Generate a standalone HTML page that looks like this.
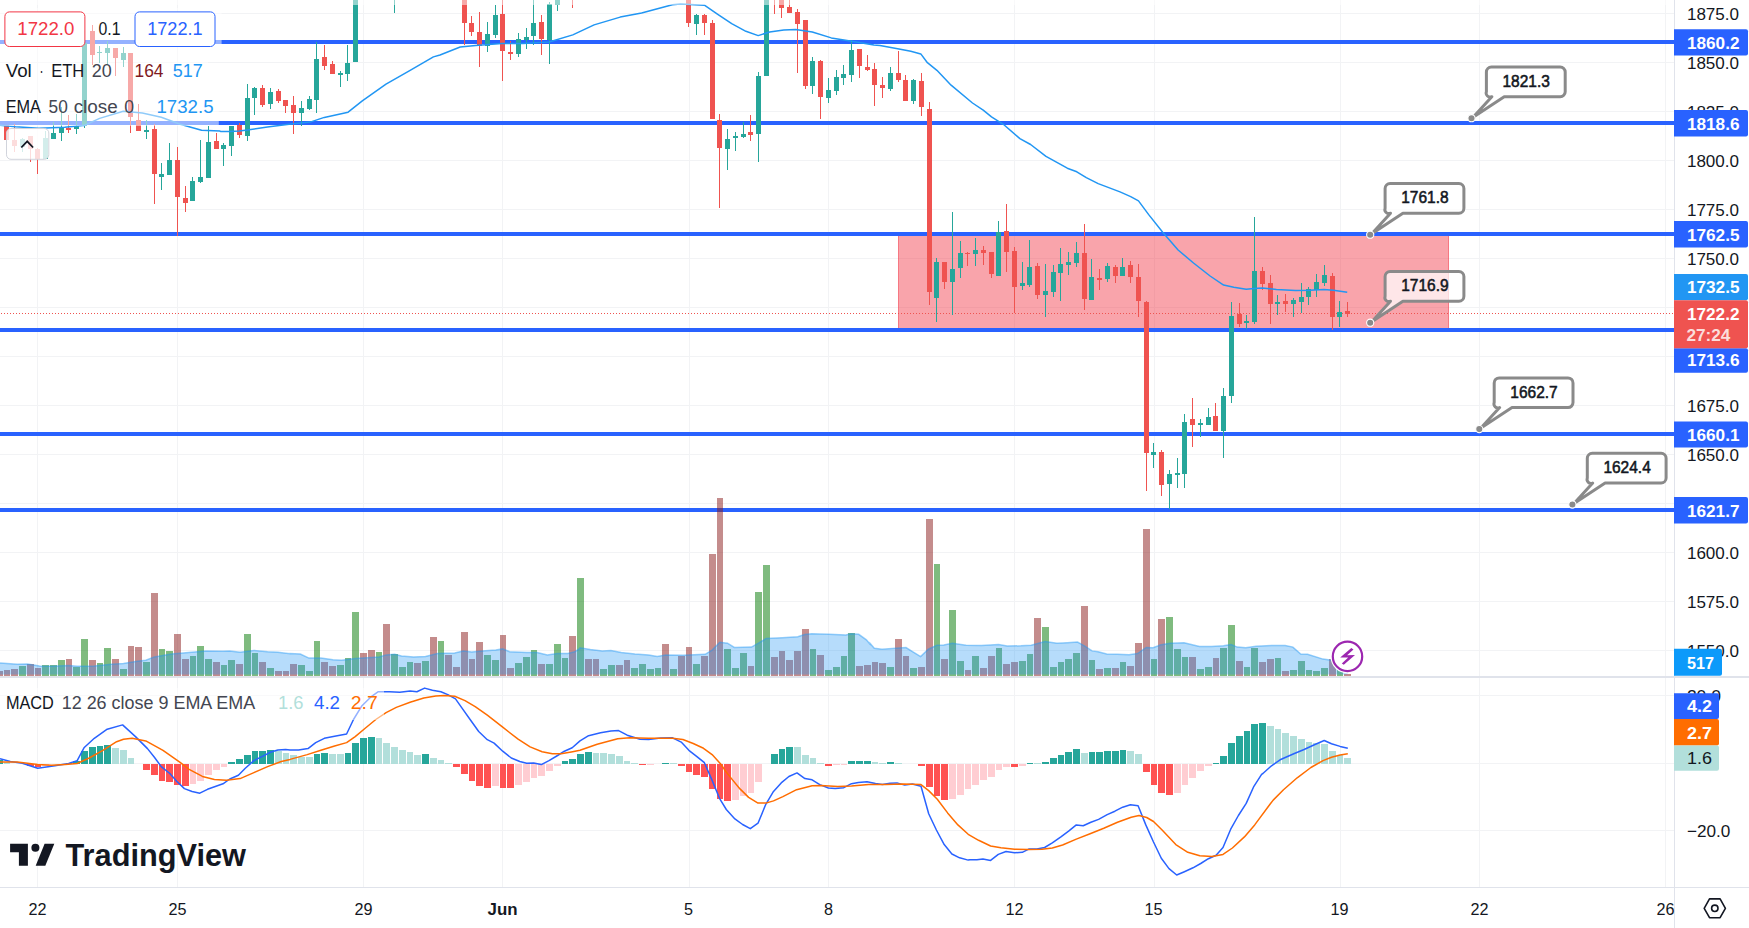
<!DOCTYPE html>
<html><head><meta charset="utf-8"><title>ETH chart</title>
<style>html,body{margin:0;padding:0;background:#fff;overflow:hidden}svg{display:block}</style></head>
<body><svg width="1749" height="928" viewBox="0 0 1749 928">
<rect x="0" y="0" width="1749" height="928" fill="#fff"/>
<path d="M37.5 0V887 M177.5 0V887 M363.5 0V887 M502.5 0V887 M689.5 0V887 M828.5 0V887 M1014.5 0V887 M1154.5 0V887 M1340.5 0V887 M1479.5 0V887 M1665.5 0V887 M0 650.5H1674.5 M0 601.5H1674.5 M0 552.5H1674.5 M0 503.5H1674.5 M0 454.5H1674.5 M0 405.5H1674.5 M0 356.5H1674.5 M0 307.5H1674.5 M0 258.5H1674.5 M0 209.5H1674.5 M0 160.5H1674.5 M0 111.5H1674.5 M0 62.5H1674.5 M0 13.5H1674.5 M0 695.5H1674.5 M0 763.5H1674.5 M0 830.5H1674.5" stroke="#F2F3F5" stroke-width="1" fill="none"/>
<rect x="898" y="234" width="551" height="96" fill="#F23645" fill-opacity="0.45"/><rect x="898.5" y="234.5" width="550" height="95" fill="none" stroke="#F23645" stroke-opacity="0.4" stroke-width="1"/>
<rect x="0" y="40.0" width="1674.5" height="4" fill="#2962FF"/>
<rect x="0" y="121.0" width="1674.5" height="4" fill="#2962FF"/>
<rect x="0" y="232.0" width="1674.5" height="4" fill="#2962FF"/>
<rect x="0" y="328.0" width="1674.5" height="4" fill="#2962FF"/>
<rect x="0" y="432.0" width="1674.5" height="4" fill="#2962FF"/>
<rect x="0" y="508.0" width="1674.5" height="4" fill="#2962FF"/>
<g shape-rendering="crispEdges"><rect x="0" y="671.1" width="3" height="4.9" fill="rgba(137,25,25,0.5)"/><rect x="4" y="670.1" width="6" height="5.9" fill="rgba(137,25,25,0.5)"/><rect x="11" y="669.1" width="7" height="6.9" fill="rgba(137,25,25,0.5)"/><rect x="19" y="666.0" width="7" height="10.0" fill="rgba(0,120,0,0.5)"/><rect x="27" y="664.1" width="7" height="11.9" fill="rgba(137,25,25,0.5)"/><rect x="35" y="668.1" width="6" height="7.9" fill="rgba(137,25,25,0.5)"/><rect x="42" y="665.0" width="7" height="11.0" fill="rgba(0,120,0,0.5)"/><rect x="50" y="665.0" width="7" height="11.0" fill="rgba(0,120,0,0.5)"/><rect x="58" y="660.0" width="7" height="16.0" fill="rgba(0,120,0,0.5)"/><rect x="66" y="659.0" width="6" height="17.0" fill="rgba(137,25,25,0.5)"/><rect x="73" y="667.2" width="7" height="8.8" fill="rgba(0,120,0,0.5)"/><rect x="81" y="638.9" width="7" height="37.1" fill="rgba(0,120,0,0.5)"/><rect x="89" y="660.0" width="7" height="16.0" fill="rgba(137,25,25,0.5)"/><rect x="97" y="662.9" width="6" height="13.1" fill="rgba(0,120,0,0.5)"/><rect x="104" y="648.0" width="7" height="28.0" fill="rgba(0,120,0,0.5)"/><rect x="112" y="659.0" width="7" height="17.0" fill="rgba(137,25,25,0.5)"/><rect x="120" y="669.1" width="7" height="6.9" fill="rgba(0,120,0,0.5)"/><rect x="128" y="646.1" width="6" height="29.9" fill="rgba(137,25,25,0.5)"/><rect x="135" y="647.0" width="7" height="29.0" fill="rgba(137,25,25,0.5)"/><rect x="143" y="662.1" width="7" height="13.9" fill="rgba(0,120,0,0.5)"/><rect x="151" y="592.9" width="7" height="83.1" fill="rgba(137,25,25,0.5)"/><rect x="159" y="649.0" width="6" height="27.0" fill="rgba(0,120,0,0.5)"/><rect x="166" y="650.9" width="7" height="25.1" fill="rgba(0,120,0,0.5)"/><rect x="174" y="634.1" width="7" height="41.9" fill="rgba(137,25,25,0.5)"/><rect x="182" y="659.0" width="7" height="17.0" fill="rgba(137,25,25,0.5)"/><rect x="190" y="656.1" width="6" height="19.9" fill="rgba(0,120,0,0.5)"/><rect x="197" y="646.1" width="7" height="29.9" fill="rgba(0,120,0,0.5)"/><rect x="205" y="659.0" width="7" height="17.0" fill="rgba(0,120,0,0.5)"/><rect x="213" y="662.1" width="7" height="13.9" fill="rgba(137,25,25,0.5)"/><rect x="221" y="665.0" width="6" height="11.0" fill="rgba(0,120,0,0.5)"/><rect x="228" y="660.0" width="7" height="16.0" fill="rgba(0,120,0,0.5)"/><rect x="236" y="663.9" width="7" height="12.1" fill="rgba(137,25,25,0.5)"/><rect x="244" y="634.1" width="7" height="41.9" fill="rgba(0,120,0,0.5)"/><rect x="252" y="653.0" width="6" height="23.0" fill="rgba(0,120,0,0.5)"/><rect x="259" y="662.1" width="7" height="13.9" fill="rgba(137,25,25,0.5)"/><rect x="267" y="668.1" width="7" height="7.9" fill="rgba(0,120,0,0.5)"/><rect x="275" y="671.1" width="7" height="4.9" fill="rgba(137,25,25,0.5)"/><rect x="283" y="671.1" width="6" height="4.9" fill="rgba(137,25,25,0.5)"/><rect x="290" y="663.9" width="7" height="12.1" fill="rgba(137,25,25,0.5)"/><rect x="298" y="665.0" width="7" height="11.0" fill="rgba(0,120,0,0.5)"/><rect x="306" y="671.1" width="7" height="4.9" fill="rgba(0,120,0,0.5)"/><rect x="314" y="641.0" width="6" height="35.0" fill="rgba(0,120,0,0.5)"/><rect x="321" y="662.1" width="7" height="13.9" fill="rgba(137,25,25,0.5)"/><rect x="329" y="666.0" width="7" height="10.0" fill="rgba(137,25,25,0.5)"/><rect x="337" y="665.0" width="7" height="11.0" fill="rgba(0,120,0,0.5)"/><rect x="345" y="658.1" width="6" height="17.9" fill="rgba(0,120,0,0.5)"/><rect x="352" y="612.0" width="7" height="64.0" fill="rgba(0,120,0,0.5)"/><rect x="360" y="653.0" width="7" height="23.0" fill="rgba(137,25,25,0.5)"/><rect x="368" y="650.1" width="7" height="25.9" fill="rgba(137,25,25,0.5)"/><rect x="376" y="652.1" width="6" height="23.9" fill="rgba(0,120,0,0.5)"/><rect x="383" y="624.0" width="7" height="52.0" fill="rgba(137,25,25,0.5)"/><rect x="391" y="654.0" width="7" height="22.0" fill="rgba(0,120,0,0.5)"/><rect x="399" y="667.2" width="7" height="8.8" fill="rgba(0,120,0,0.5)"/><rect x="407" y="662.1" width="6" height="13.9" fill="rgba(0,120,0,0.5)"/><rect x="414" y="663.1" width="7" height="12.9" fill="rgba(137,25,25,0.5)"/><rect x="422" y="661.0" width="7" height="15.0" fill="rgba(0,120,0,0.5)"/><rect x="430" y="637.0" width="7" height="39.0" fill="rgba(137,25,25,0.5)"/><rect x="438" y="641.0" width="6" height="35.0" fill="rgba(0,120,0,0.5)"/><rect x="445" y="655.0" width="7" height="21.0" fill="rgba(137,25,25,0.5)"/><rect x="453" y="667.2" width="7" height="8.8" fill="rgba(137,25,25,0.5)"/><rect x="461" y="632.0" width="7" height="44.0" fill="rgba(137,25,25,0.5)"/><rect x="469" y="659.0" width="6" height="17.0" fill="rgba(137,25,25,0.5)"/><rect x="476" y="642.0" width="7" height="34.0" fill="rgba(137,25,25,0.5)"/><rect x="484" y="655.0" width="7" height="21.0" fill="rgba(0,120,0,0.5)"/><rect x="492" y="660.0" width="7" height="16.0" fill="rgba(0,120,0,0.5)"/><rect x="500" y="635.0" width="6" height="41.0" fill="rgba(137,25,25,0.5)"/><rect x="507" y="668.1" width="7" height="7.9" fill="rgba(137,25,25,0.5)"/><rect x="515" y="663.1" width="7" height="12.9" fill="rgba(0,120,0,0.5)"/><rect x="523" y="657.1" width="7" height="18.9" fill="rgba(0,120,0,0.5)"/><rect x="531" y="650.1" width="6" height="25.9" fill="rgba(0,120,0,0.5)"/><rect x="538" y="663.9" width="7" height="12.1" fill="rgba(137,25,25,0.5)"/><rect x="546" y="663.9" width="7" height="12.1" fill="rgba(0,120,0,0.5)"/><rect x="554" y="644.0" width="7" height="32.0" fill="rgba(0,120,0,0.5)"/><rect x="562" y="658.1" width="6" height="17.9" fill="rgba(0,120,0,0.5)"/><rect x="569" y="636.0" width="7" height="40.0" fill="rgba(137,25,25,0.5)"/><rect x="577" y="578.0" width="7" height="98.0" fill="rgba(0,120,0,0.5)"/><rect x="585" y="659.0" width="7" height="17.0" fill="rgba(137,25,25,0.5)"/><rect x="593" y="659.0" width="6" height="17.0" fill="rgba(137,25,25,0.5)"/><rect x="600" y="669.1" width="7" height="6.9" fill="rgba(0,120,0,0.5)"/><rect x="608" y="665.0" width="7" height="11.0" fill="rgba(0,120,0,0.5)"/><rect x="616" y="665.0" width="7" height="11.0" fill="rgba(137,25,25,0.5)"/><rect x="624" y="660.0" width="6" height="16.0" fill="rgba(137,25,25,0.5)"/><rect x="631" y="668.1" width="7" height="7.9" fill="rgba(0,120,0,0.5)"/><rect x="639" y="663.9" width="7" height="12.1" fill="rgba(0,120,0,0.5)"/><rect x="647" y="669.1" width="7" height="6.9" fill="rgba(0,120,0,0.5)"/><rect x="655" y="668.1" width="6" height="7.9" fill="rgba(0,120,0,0.5)"/><rect x="662" y="644.0" width="7" height="32.0" fill="rgba(137,25,25,0.5)"/><rect x="670" y="669.1" width="7" height="6.9" fill="rgba(0,120,0,0.5)"/><rect x="678" y="656.1" width="7" height="19.9" fill="rgba(137,25,25,0.5)"/><rect x="686" y="647.0" width="6" height="29.0" fill="rgba(137,25,25,0.5)"/><rect x="693" y="663.9" width="7" height="12.1" fill="rgba(0,120,0,0.5)"/><rect x="701" y="656.1" width="7" height="19.9" fill="rgba(137,25,25,0.5)"/><rect x="709" y="553.8" width="7" height="122.2" fill="rgba(137,25,25,0.5)"/><rect x="717" y="497.7" width="6" height="178.3" fill="rgba(137,25,25,0.5)"/><rect x="724" y="649.0" width="7" height="27.0" fill="rgba(0,120,0,0.5)"/><rect x="732" y="668.1" width="7" height="7.9" fill="rgba(0,120,0,0.5)"/><rect x="740" y="653.0" width="7" height="23.0" fill="rgba(0,120,0,0.5)"/><rect x="748" y="666.0" width="6" height="10.0" fill="rgba(137,25,25,0.5)"/><rect x="755" y="592.1" width="7" height="83.9" fill="rgba(0,120,0,0.5)"/><rect x="763" y="565.1" width="7" height="110.9" fill="rgba(0,120,0,0.5)"/><rect x="771" y="657.1" width="7" height="18.9" fill="rgba(137,25,25,0.5)"/><rect x="779" y="650.9" width="6" height="25.1" fill="rgba(137,25,25,0.5)"/><rect x="786" y="660.0" width="7" height="16.0" fill="rgba(137,25,25,0.5)"/><rect x="794" y="650.9" width="7" height="25.1" fill="rgba(137,25,25,0.5)"/><rect x="802" y="629.0" width="7" height="47.0" fill="rgba(137,25,25,0.5)"/><rect x="810" y="649.0" width="6" height="27.0" fill="rgba(0,120,0,0.5)"/><rect x="817" y="655.0" width="7" height="21.0" fill="rgba(137,25,25,0.5)"/><rect x="825" y="670.1" width="7" height="5.9" fill="rgba(0,120,0,0.5)"/><rect x="833" y="667.2" width="7" height="8.8" fill="rgba(0,120,0,0.5)"/><rect x="841" y="656.1" width="6" height="19.9" fill="rgba(0,120,0,0.5)"/><rect x="848" y="633.1" width="7" height="42.9" fill="rgba(0,120,0,0.5)"/><rect x="856" y="666.0" width="7" height="10.0" fill="rgba(137,25,25,0.5)"/><rect x="864" y="665.0" width="7" height="11.0" fill="rgba(137,25,25,0.5)"/><rect x="872" y="662.1" width="6" height="13.9" fill="rgba(137,25,25,0.5)"/><rect x="879" y="663.1" width="7" height="12.9" fill="rgba(137,25,25,0.5)"/><rect x="887" y="667.2" width="7" height="8.8" fill="rgba(0,120,0,0.5)"/><rect x="895" y="638.9" width="7" height="37.1" fill="rgba(137,25,25,0.5)"/><rect x="903" y="656.1" width="6" height="19.9" fill="rgba(137,25,25,0.5)"/><rect x="910" y="668.1" width="7" height="7.9" fill="rgba(0,120,0,0.5)"/><rect x="918" y="667.2" width="7" height="8.8" fill="rgba(137,25,25,0.5)"/><rect x="926" y="518.7" width="7" height="157.3" fill="rgba(137,25,25,0.5)"/><rect x="934" y="563.9" width="6" height="112.1" fill="rgba(0,120,0,0.5)"/><rect x="941" y="659.0" width="7" height="17.0" fill="rgba(137,25,25,0.5)"/><rect x="949" y="610.1" width="7" height="65.9" fill="rgba(0,120,0,0.5)"/><rect x="957" y="661.0" width="7" height="15.0" fill="rgba(0,120,0,0.5)"/><rect x="965" y="670.1" width="6" height="5.9" fill="rgba(137,25,25,0.5)"/><rect x="972" y="656.1" width="7" height="19.9" fill="rgba(0,120,0,0.5)"/><rect x="980" y="668.1" width="7" height="7.9" fill="rgba(137,25,25,0.5)"/><rect x="988" y="656.1" width="7" height="19.9" fill="rgba(137,25,25,0.5)"/><rect x="996" y="648.0" width="6" height="28.0" fill="rgba(0,120,0,0.5)"/><rect x="1003" y="663.9" width="7" height="12.1" fill="rgba(137,25,25,0.5)"/><rect x="1011" y="662.1" width="7" height="13.9" fill="rgba(137,25,25,0.5)"/><rect x="1019" y="661.0" width="7" height="15.0" fill="rgba(0,120,0,0.5)"/><rect x="1027" y="654.0" width="6" height="22.0" fill="rgba(0,120,0,0.5)"/><rect x="1034" y="618.0" width="7" height="58.0" fill="rgba(137,25,25,0.5)"/><rect x="1042" y="626.9" width="7" height="49.1" fill="rgba(0,120,0,0.5)"/><rect x="1050" y="667.2" width="7" height="8.8" fill="rgba(0,120,0,0.5)"/><rect x="1058" y="662.1" width="6" height="13.9" fill="rgba(0,120,0,0.5)"/><rect x="1065" y="659.0" width="7" height="17.0" fill="rgba(0,120,0,0.5)"/><rect x="1073" y="653.0" width="7" height="23.0" fill="rgba(0,120,0,0.5)"/><rect x="1081" y="606.0" width="7" height="70.0" fill="rgba(137,25,25,0.5)"/><rect x="1089" y="660.0" width="6" height="16.0" fill="rgba(0,120,0,0.5)"/><rect x="1096" y="669.1" width="7" height="6.9" fill="rgba(137,25,25,0.5)"/><rect x="1104" y="668.1" width="7" height="7.9" fill="rgba(0,120,0,0.5)"/><rect x="1112" y="668.1" width="7" height="7.9" fill="rgba(137,25,25,0.5)"/><rect x="1120" y="662.1" width="6" height="13.9" fill="rgba(0,120,0,0.5)"/><rect x="1127" y="666.0" width="7" height="10.0" fill="rgba(137,25,25,0.5)"/><rect x="1135" y="643.0" width="7" height="33.0" fill="rgba(137,25,25,0.5)"/><rect x="1143" y="529.1" width="7" height="146.9" fill="rgba(137,25,25,0.5)"/><rect x="1151" y="659.0" width="6" height="17.0" fill="rgba(0,120,0,0.5)"/><rect x="1158" y="619.0" width="7" height="57.0" fill="rgba(137,25,25,0.5)"/><rect x="1166" y="616.9" width="7" height="59.1" fill="rgba(0,120,0,0.5)"/><rect x="1174" y="649.0" width="7" height="27.0" fill="rgba(0,120,0,0.5)"/><rect x="1182" y="657.1" width="6" height="18.9" fill="rgba(0,120,0,0.5)"/><rect x="1189" y="657.1" width="7" height="18.9" fill="rgba(137,25,25,0.5)"/><rect x="1197" y="669.1" width="7" height="6.9" fill="rgba(0,120,0,0.5)"/><rect x="1205" y="667.2" width="7" height="8.8" fill="rgba(0,120,0,0.5)"/><rect x="1213" y="658.1" width="6" height="17.9" fill="rgba(137,25,25,0.5)"/><rect x="1220" y="648.0" width="7" height="28.0" fill="rgba(0,120,0,0.5)"/><rect x="1228" y="625.0" width="7" height="51.0" fill="rgba(0,120,0,0.5)"/><rect x="1236" y="661.0" width="7" height="15.0" fill="rgba(137,25,25,0.5)"/><rect x="1244" y="667.2" width="6" height="8.8" fill="rgba(0,120,0,0.5)"/><rect x="1251" y="648.0" width="7" height="28.0" fill="rgba(0,120,0,0.5)"/><rect x="1259" y="662.1" width="7" height="13.9" fill="rgba(137,25,25,0.5)"/><rect x="1267" y="659.0" width="7" height="17.0" fill="rgba(137,25,25,0.5)"/><rect x="1275" y="658.1" width="6" height="17.9" fill="rgba(0,120,0,0.5)"/><rect x="1282" y="671.1" width="7" height="4.9" fill="rgba(137,25,25,0.5)"/><rect x="1290" y="670.1" width="7" height="5.9" fill="rgba(0,120,0,0.5)"/><rect x="1298" y="661.0" width="7" height="15.0" fill="rgba(0,120,0,0.5)"/><rect x="1306" y="670.1" width="6" height="5.9" fill="rgba(0,120,0,0.5)"/><rect x="1313" y="671.1" width="7" height="4.9" fill="rgba(0,120,0,0.5)"/><rect x="1321" y="668.1" width="7" height="7.9" fill="rgba(0,120,0,0.5)"/><rect x="1329" y="659.0" width="7" height="17.0" fill="rgba(137,25,25,0.5)"/><rect x="1337" y="669.8" width="6" height="6.2" fill="rgba(0,120,0,0.5)"/><rect x="1344" y="673.6" width="7" height="2.4" fill="rgba(137,25,25,0.5)"/></g>
<polygon points="0.0,674.5 0.0,662.9 6.9,663.4 17.2,664.3 27.4,664.1 39.5,666.0 51.5,666.3 68.6,665.5 77.2,666.3 94.3,666.0 111.5,664.3 123.5,663.4 137.2,661.2 145.8,660.3 154.4,656.9 171.5,654.0 188.7,652.6 205.8,650.9 223.0,651.3 229.8,650.9 240.1,652.3 253.9,650.4 267.6,651.8 277.9,652.3 289.9,653.8 290.0,653.5 300.3,654.0 308.9,658.1 320.9,658.1 332.9,659.8 341.5,660.3 355.2,658.6 367.2,657.8 379.2,656.9 386.1,654.9 394.6,654.3 401.5,656.1 413.5,656.9 425.5,656.4 437.5,653.5 454.7,653.0 463.2,650.9 471.8,652.1 482.1,650.9 495.8,650.1 502.7,648.9 509.6,651.8 526.7,652.6 537.0,652.6 547.3,654.9 557.6,653.5 567.9,653.5 574.7,651.8 579.9,648.5 580.0,647.8 590.3,649.5 602.3,650.9 610.9,650.6 621.2,652.6 634.9,654.0 648.6,654.9 657.2,656.4 665.8,654.9 682.9,655.2 705.2,654.3 712.1,650.1 719.8,642.3 727.5,643.2 734.4,647.5 751.5,647.1 758.4,643.2 766.1,638.6 782.4,637.7 797.8,636.8 804.7,634.6 811.6,633.8 828.7,634.3 845.9,635.0 851.0,633.8 858.7,634.3 866.4,639.8 869.9,644.0 870.0,643.2 874.3,648.3 882.0,649.2 895.7,648.3 906.0,647.5 912.9,651.8 920.6,656.6 928.3,649.2 936.9,645.2 943.8,644.9 952.3,643.2 966.1,645.2 981.5,645.4 998.6,644.6 1007.2,646.1 1020.9,645.8 1031.2,645.2 1045.0,641.5 1057.0,643.2 1067.3,642.7 1077.5,642.0 1084.4,645.8 1092.1,650.9 1098.1,651.8 1106.7,654.0 1117.0,654.3 1129.0,654.7 1137.6,653.5 1146.2,647.5 1153.0,647.8 1159.9,645.2 1160.0,644.9 1170.3,643.2 1184.0,642.7 1199.5,646.6 1211.5,646.6 1223.5,645.8 1231.2,644.6 1237.2,647.1 1245.8,647.8 1256.1,646.3 1271.5,645.4 1285.2,645.4 1292.9,647.1 1300.7,654.0 1307.5,654.3 1323.0,659.1 1331.5,660.3 1340.1,662.4 1347.7,664.6 1347.7,674.5" fill="#2196F3" fill-opacity="0.33"/>
<polyline points="0.0,662.9 6.9,663.4 17.2,664.3 27.4,664.1 39.5,666.0 51.5,666.3 68.6,665.5 77.2,666.3 94.3,666.0 111.5,664.3 123.5,663.4 137.2,661.2 145.8,660.3 154.4,656.9 171.5,654.0 188.7,652.6 205.8,650.9 223.0,651.3 229.8,650.9 240.1,652.3 253.9,650.4 267.6,651.8 277.9,652.3 289.9,653.8 290.0,653.5 300.3,654.0 308.9,658.1 320.9,658.1 332.9,659.8 341.5,660.3 355.2,658.6 367.2,657.8 379.2,656.9 386.1,654.9 394.6,654.3 401.5,656.1 413.5,656.9 425.5,656.4 437.5,653.5 454.7,653.0 463.2,650.9 471.8,652.1 482.1,650.9 495.8,650.1 502.7,648.9 509.6,651.8 526.7,652.6 537.0,652.6 547.3,654.9 557.6,653.5 567.9,653.5 574.7,651.8 579.9,648.5 580.0,647.8 590.3,649.5 602.3,650.9 610.9,650.6 621.2,652.6 634.9,654.0 648.6,654.9 657.2,656.4 665.8,654.9 682.9,655.2 705.2,654.3 712.1,650.1 719.8,642.3 727.5,643.2 734.4,647.5 751.5,647.1 758.4,643.2 766.1,638.6 782.4,637.7 797.8,636.8 804.7,634.6 811.6,633.8 828.7,634.3 845.9,635.0 851.0,633.8 858.7,634.3 866.4,639.8 869.9,644.0 870.0,643.2 874.3,648.3 882.0,649.2 895.7,648.3 906.0,647.5 912.9,651.8 920.6,656.6 928.3,649.2 936.9,645.2 943.8,644.9 952.3,643.2 966.1,645.2 981.5,645.4 998.6,644.6 1007.2,646.1 1020.9,645.8 1031.2,645.2 1045.0,641.5 1057.0,643.2 1067.3,642.7 1077.5,642.0 1084.4,645.8 1092.1,650.9 1098.1,651.8 1106.7,654.0 1117.0,654.3 1129.0,654.7 1137.6,653.5 1146.2,647.5 1153.0,647.8 1159.9,645.2 1160.0,644.9 1170.3,643.2 1184.0,642.7 1199.5,646.6 1211.5,646.6 1223.5,645.8 1231.2,644.6 1237.2,647.1 1245.8,647.8 1256.1,646.3 1271.5,645.4 1285.2,645.4 1292.9,647.1 1300.7,654.0 1307.5,654.3 1323.0,659.1 1331.5,660.3 1340.1,662.4 1347.7,664.6" fill="none" stroke="#2196F3" stroke-opacity="0.45" stroke-width="1.5"/>
<line x1="1" y1="313.5" x2="1674.5" y2="313.5" stroke="#EF5350" stroke-width="1" stroke-dasharray="1 2" shape-rendering="crispEdges"/>
<g shape-rendering="crispEdges"><rect x="6" y="125" width="1" height="16" fill="#EF5350"/><rect x="14" y="124" width="1" height="28" fill="#EF5350"/><rect x="22" y="138" width="1" height="14" fill="#26A69A"/><rect x="30" y="136" width="1" height="26" fill="#EF5350"/><rect x="37" y="148" width="1" height="26" fill="#EF5350"/><rect x="45" y="131" width="1" height="28" fill="#26A69A"/><rect x="53" y="122" width="1" height="17" fill="#26A69A"/><rect x="61" y="107" width="1" height="34" fill="#26A69A"/><rect x="68" y="115" width="1" height="18" fill="#EF5350"/><rect x="76" y="114" width="1" height="20" fill="#26A69A"/><rect x="84" y="31" width="1" height="97" fill="#26A69A"/><rect x="92" y="25" width="1" height="40" fill="#EF5350"/><rect x="99" y="46" width="1" height="17" fill="#26A69A"/><rect x="107" y="41" width="1" height="24" fill="#26A69A"/><rect x="115" y="48" width="1" height="28" fill="#EF5350"/><rect x="123" y="47" width="1" height="20" fill="#26A69A"/><rect x="130" y="53" width="1" height="80" fill="#EF5350"/><rect x="138" y="104" width="1" height="27" fill="#EF5350"/><rect x="146" y="120" width="1" height="19" fill="#26A69A"/><rect x="154" y="124" width="1" height="80" fill="#EF5350"/><rect x="161" y="163" width="1" height="27" fill="#26A69A"/><rect x="169" y="143" width="1" height="32" fill="#26A69A"/><rect x="177" y="147" width="1" height="89" fill="#EF5350"/><rect x="185" y="186" width="1" height="26" fill="#EF5350"/><rect x="192" y="177" width="1" height="24" fill="#26A69A"/><rect x="200" y="140" width="1" height="43" fill="#26A69A"/><rect x="208" y="126" width="1" height="52" fill="#26A69A"/><rect x="216" y="133" width="1" height="16" fill="#EF5350"/><rect x="223" y="143" width="1" height="23" fill="#26A69A"/><rect x="231" y="126" width="1" height="30" fill="#26A69A"/><rect x="239" y="123" width="1" height="15" fill="#EF5350"/><rect x="247" y="84" width="1" height="57" fill="#26A69A"/><rect x="254" y="87" width="1" height="28" fill="#26A69A"/><rect x="262" y="85" width="1" height="22" fill="#EF5350"/><rect x="270" y="88" width="1" height="21" fill="#26A69A"/><rect x="278" y="89" width="1" height="14" fill="#EF5350"/><rect x="285" y="100" width="1" height="13" fill="#EF5350"/><rect x="293" y="96" width="1" height="38" fill="#EF5350"/><rect x="301" y="101" width="1" height="25" fill="#26A69A"/><rect x="309" y="96" width="1" height="14" fill="#26A69A"/><rect x="316" y="42" width="1" height="71" fill="#26A69A"/><rect x="324" y="45" width="1" height="25" fill="#EF5350"/><rect x="332" y="61" width="1" height="13" fill="#EF5350"/><rect x="340" y="71" width="1" height="16" fill="#26A69A"/><rect x="347" y="45" width="1" height="36" fill="#26A69A"/><rect x="355" y="-19" width="1" height="81" fill="#26A69A"/><rect x="394" y="-19" width="1" height="32" fill="#26A69A"/><rect x="464" y="-19" width="1" height="64" fill="#EF5350"/><rect x="471" y="16" width="1" height="20" fill="#EF5350"/><rect x="479" y="12" width="1" height="55" fill="#EF5350"/><rect x="487" y="22" width="1" height="30" fill="#26A69A"/><rect x="495" y="5" width="1" height="33" fill="#26A69A"/><rect x="502" y="-5" width="1" height="86" fill="#EF5350"/><rect x="510" y="41" width="1" height="19" fill="#EF5350"/><rect x="518" y="33" width="1" height="24" fill="#26A69A"/><rect x="526" y="28" width="1" height="21" fill="#26A69A"/><rect x="533" y="-5" width="1" height="50" fill="#26A69A"/><rect x="541" y="15" width="1" height="40" fill="#EF5350"/><rect x="549" y="2" width="1" height="62" fill="#26A69A"/><rect x="557" y="-19" width="1" height="30" fill="#26A69A"/><rect x="572" y="-19" width="1" height="27" fill="#EF5350"/><rect x="688" y="-19" width="1" height="46" fill="#EF5350"/><rect x="696" y="14" width="1" height="21" fill="#26A69A"/><rect x="704" y="14" width="1" height="21" fill="#EF5350"/><rect x="712" y="20" width="1" height="99" fill="#EF5350"/><rect x="719" y="114" width="1" height="94" fill="#EF5350"/><rect x="727" y="129" width="1" height="41" fill="#26A69A"/><rect x="735" y="132" width="1" height="19" fill="#26A69A"/><rect x="743" y="122" width="1" height="16" fill="#26A69A"/><rect x="750" y="115" width="1" height="26" fill="#EF5350"/><rect x="758" y="72" width="1" height="90" fill="#26A69A"/><rect x="766" y="-19" width="1" height="95" fill="#26A69A"/><rect x="774" y="-19" width="1" height="33" fill="#EF5350"/><rect x="781" y="-19" width="1" height="37" fill="#EF5350"/><rect x="789" y="-5" width="1" height="18" fill="#EF5350"/><rect x="797" y="9" width="1" height="64" fill="#EF5350"/><rect x="805" y="20" width="1" height="69" fill="#EF5350"/><rect x="812" y="57" width="1" height="37" fill="#26A69A"/><rect x="820" y="60" width="1" height="59" fill="#EF5350"/><rect x="828" y="78" width="1" height="25" fill="#26A69A"/><rect x="836" y="70" width="1" height="25" fill="#26A69A"/><rect x="843" y="65" width="1" height="20" fill="#26A69A"/><rect x="851" y="40" width="1" height="42" fill="#26A69A"/><rect x="859" y="49" width="1" height="29" fill="#EF5350"/><rect x="867" y="55" width="1" height="16" fill="#EF5350"/><rect x="874" y="63" width="1" height="43" fill="#EF5350"/><rect x="882" y="77" width="1" height="21" fill="#EF5350"/><rect x="890" y="67" width="1" height="24" fill="#26A69A"/><rect x="898" y="51" width="1" height="31" fill="#EF5350"/><rect x="905" y="75" width="1" height="26" fill="#EF5350"/><rect x="913" y="79" width="1" height="25" fill="#26A69A"/><rect x="921" y="73" width="1" height="43" fill="#EF5350"/><rect x="929" y="102" width="1" height="203" fill="#EF5350"/><rect x="936" y="258" width="1" height="64" fill="#26A69A"/><rect x="944" y="262" width="1" height="27" fill="#EF5350"/><rect x="952" y="212" width="1" height="103" fill="#26A69A"/><rect x="960" y="241" width="1" height="37" fill="#26A69A"/><rect x="967" y="252" width="1" height="14" fill="#EF5350"/><rect x="975" y="238" width="1" height="28" fill="#26A69A"/><rect x="983" y="246" width="1" height="19" fill="#EF5350"/><rect x="991" y="252" width="1" height="26" fill="#EF5350"/><rect x="998" y="221" width="1" height="55" fill="#26A69A"/><rect x="1006" y="204" width="1" height="68" fill="#EF5350"/><rect x="1014" y="247" width="1" height="66" fill="#EF5350"/><rect x="1022" y="262" width="1" height="28" fill="#26A69A"/><rect x="1029" y="240" width="1" height="47" fill="#26A69A"/><rect x="1037" y="263" width="1" height="36" fill="#EF5350"/><rect x="1045" y="264" width="1" height="53" fill="#26A69A"/><rect x="1053" y="265" width="1" height="32" fill="#26A69A"/><rect x="1060" y="248" width="1" height="53" fill="#26A69A"/><rect x="1068" y="252" width="1" height="23" fill="#26A69A"/><rect x="1076" y="242" width="1" height="25" fill="#26A69A"/><rect x="1084" y="224" width="1" height="86" fill="#EF5350"/><rect x="1091" y="259" width="1" height="41" fill="#26A69A"/><rect x="1099" y="269" width="1" height="21" fill="#EF5350"/><rect x="1107" y="263" width="1" height="19" fill="#26A69A"/><rect x="1115" y="265" width="1" height="18" fill="#EF5350"/><rect x="1122" y="258" width="1" height="18" fill="#26A69A"/><rect x="1130" y="261" width="1" height="22" fill="#EF5350"/><rect x="1138" y="264" width="1" height="53" fill="#EF5350"/><rect x="1146" y="301" width="1" height="190" fill="#EF5350"/><rect x="1153" y="443" width="1" height="25" fill="#26A69A"/><rect x="1161" y="450" width="1" height="46" fill="#EF5350"/><rect x="1169" y="470" width="1" height="39" fill="#26A69A"/><rect x="1177" y="458" width="1" height="30" fill="#26A69A"/><rect x="1184" y="414" width="1" height="74" fill="#26A69A"/><rect x="1192" y="398" width="1" height="49" fill="#EF5350"/><rect x="1200" y="419" width="1" height="18" fill="#26A69A"/><rect x="1208" y="408" width="1" height="17" fill="#26A69A"/><rect x="1215" y="403" width="1" height="28" fill="#EF5350"/><rect x="1223" y="388" width="1" height="70" fill="#26A69A"/><rect x="1231" y="302" width="1" height="101" fill="#26A69A"/><rect x="1239" y="303" width="1" height="24" fill="#EF5350"/><rect x="1246" y="315" width="1" height="14" fill="#26A69A"/><rect x="1254" y="217" width="1" height="107" fill="#26A69A"/><rect x="1262" y="267" width="1" height="23" fill="#EF5350"/><rect x="1270" y="275" width="1" height="49" fill="#EF5350"/><rect x="1277" y="295" width="1" height="20" fill="#26A69A"/><rect x="1285" y="294" width="1" height="18" fill="#EF5350"/><rect x="1293" y="298" width="1" height="19" fill="#26A69A"/><rect x="1301" y="283" width="1" height="30" fill="#26A69A"/><rect x="1308" y="287" width="1" height="18" fill="#26A69A"/><rect x="1316" y="274" width="1" height="23" fill="#26A69A"/><rect x="1324" y="265" width="1" height="21" fill="#26A69A"/><rect x="1332" y="273" width="1" height="57" fill="#EF5350"/><rect x="1339" y="301" width="1" height="26" fill="#26A69A"/><rect x="1347" y="302" width="1" height="15" fill="#EF5350"/><rect x="4" y="125" width="5" height="15" fill="#EF5350"/><rect x="12" y="140" width="5" height="6" fill="#EF5350"/><rect x="20" y="139" width="5" height="8" fill="#26A69A"/><rect x="28" y="136" width="5" height="13" fill="#EF5350"/><rect x="35" y="149" width="5" height="10" fill="#EF5350"/><rect x="43" y="138" width="5" height="21" fill="#26A69A"/><rect x="51" y="133" width="5" height="6" fill="#26A69A"/><rect x="59" y="127" width="5" height="6" fill="#26A69A"/><rect x="66" y="128" width="5" height="2" fill="#EF5350"/><rect x="74" y="126" width="5" height="3" fill="#26A69A"/><rect x="82" y="43" width="5" height="83" fill="#26A69A"/><rect x="90" y="31" width="5" height="24" fill="#EF5350"/><rect x="97" y="52" width="5" height="1" fill="#26A69A"/><rect x="105" y="48" width="5" height="5" fill="#26A69A"/><rect x="113" y="48" width="5" height="10" fill="#EF5350"/><rect x="121" y="53" width="5" height="7" fill="#26A69A"/><rect x="128" y="53" width="5" height="64" fill="#EF5350"/><rect x="136" y="120" width="5" height="11" fill="#EF5350"/><rect x="144" y="130" width="5" height="2" fill="#26A69A"/><rect x="152" y="129" width="5" height="45" fill="#EF5350"/><rect x="159" y="174" width="5" height="3" fill="#26A69A"/><rect x="167" y="160" width="5" height="15" fill="#26A69A"/><rect x="175" y="160" width="5" height="37" fill="#EF5350"/><rect x="183" y="198" width="5" height="5" fill="#EF5350"/><rect x="190" y="181" width="5" height="20" fill="#26A69A"/><rect x="198" y="177" width="5" height="5" fill="#26A69A"/><rect x="206" y="142" width="5" height="36" fill="#26A69A"/><rect x="214" y="141" width="5" height="8" fill="#EF5350"/><rect x="221" y="145" width="5" height="4" fill="#26A69A"/><rect x="229" y="126" width="5" height="20" fill="#26A69A"/><rect x="237" y="125" width="5" height="10" fill="#EF5350"/><rect x="245" y="98" width="5" height="38" fill="#26A69A"/><rect x="252" y="88" width="5" height="10" fill="#26A69A"/><rect x="260" y="88" width="5" height="17" fill="#EF5350"/><rect x="268" y="92" width="5" height="12" fill="#26A69A"/><rect x="276" y="91" width="5" height="10" fill="#EF5350"/><rect x="283" y="100" width="5" height="6" fill="#EF5350"/><rect x="291" y="105" width="5" height="8" fill="#EF5350"/><rect x="299" y="108" width="5" height="5" fill="#26A69A"/><rect x="307" y="99" width="5" height="10" fill="#26A69A"/><rect x="314" y="59" width="5" height="41" fill="#26A69A"/><rect x="322" y="57" width="5" height="9" fill="#EF5350"/><rect x="330" y="64" width="5" height="10" fill="#EF5350"/><rect x="338" y="73" width="5" height="2" fill="#26A69A"/><rect x="345" y="63" width="5" height="11" fill="#26A69A"/><rect x="353" y="-14" width="5" height="76" fill="#26A69A"/><rect x="392" y="-14" width="5" height="7" fill="#26A69A"/><rect x="462" y="-14" width="5" height="37" fill="#EF5350"/><rect x="469" y="23" width="5" height="9" fill="#EF5350"/><rect x="477" y="32" width="5" height="14" fill="#EF5350"/><rect x="485" y="34" width="5" height="12" fill="#26A69A"/><rect x="493" y="15" width="5" height="20" fill="#26A69A"/><rect x="500" y="14" width="5" height="37" fill="#EF5350"/><rect x="508" y="52" width="5" height="2" fill="#EF5350"/><rect x="516" y="39" width="5" height="15" fill="#26A69A"/><rect x="524" y="37" width="5" height="3" fill="#26A69A"/><rect x="531" y="23" width="5" height="13" fill="#26A69A"/><rect x="539" y="22" width="5" height="17" fill="#EF5350"/><rect x="547" y="4" width="5" height="36" fill="#26A69A"/><rect x="555" y="-14" width="5" height="19" fill="#26A69A"/><rect x="570" y="-14" width="5" height="7" fill="#EF5350"/><rect x="686" y="-14" width="5" height="37" fill="#EF5350"/><rect x="694" y="15" width="5" height="9" fill="#26A69A"/><rect x="702" y="15" width="5" height="8" fill="#EF5350"/><rect x="710" y="23" width="5" height="96" fill="#EF5350"/><rect x="717" y="120" width="5" height="28" fill="#EF5350"/><rect x="725" y="139" width="5" height="10" fill="#26A69A"/><rect x="733" y="136" width="5" height="2" fill="#26A69A"/><rect x="741" y="134" width="5" height="3" fill="#26A69A"/><rect x="748" y="132" width="5" height="3" fill="#EF5350"/><rect x="756" y="76" width="5" height="58" fill="#26A69A"/><rect x="764" y="-14" width="5" height="90" fill="#26A69A"/><rect x="772" y="-14" width="5" height="7" fill="#EF5350"/><rect x="779" y="-14" width="5" height="22" fill="#EF5350"/><rect x="787" y="7" width="5" height="6" fill="#EF5350"/><rect x="795" y="12" width="5" height="12" fill="#EF5350"/><rect x="803" y="20" width="5" height="66" fill="#EF5350"/><rect x="810" y="61" width="5" height="25" fill="#26A69A"/><rect x="818" y="61" width="5" height="36" fill="#EF5350"/><rect x="826" y="90" width="5" height="8" fill="#26A69A"/><rect x="834" y="77" width="5" height="14" fill="#26A69A"/><rect x="841" y="74" width="5" height="4" fill="#26A69A"/><rect x="849" y="50" width="5" height="25" fill="#26A69A"/><rect x="857" y="49" width="5" height="17" fill="#EF5350"/><rect x="865" y="67" width="5" height="3" fill="#EF5350"/><rect x="872" y="69" width="5" height="16" fill="#EF5350"/><rect x="880" y="85" width="5" height="3" fill="#EF5350"/><rect x="888" y="73" width="5" height="16" fill="#26A69A"/><rect x="896" y="73" width="5" height="7" fill="#EF5350"/><rect x="903" y="80" width="5" height="21" fill="#EF5350"/><rect x="911" y="80" width="5" height="21" fill="#26A69A"/><rect x="919" y="81" width="5" height="26" fill="#EF5350"/><rect x="927" y="109" width="5" height="183" fill="#EF5350"/><rect x="934" y="262" width="5" height="36" fill="#26A69A"/><rect x="942" y="262" width="5" height="20" fill="#EF5350"/><rect x="950" y="269" width="5" height="13" fill="#26A69A"/><rect x="958" y="253" width="5" height="15" fill="#26A69A"/><rect x="965" y="253" width="5" height="1" fill="#EF5350"/><rect x="973" y="250" width="5" height="4" fill="#26A69A"/><rect x="981" y="250" width="5" height="3" fill="#EF5350"/><rect x="989" y="252" width="5" height="22" fill="#EF5350"/><rect x="996" y="232" width="5" height="44" fill="#26A69A"/><rect x="1004" y="231" width="5" height="21" fill="#EF5350"/><rect x="1012" y="251" width="5" height="36" fill="#EF5350"/><rect x="1020" y="283" width="5" height="3" fill="#26A69A"/><rect x="1027" y="267" width="5" height="18" fill="#26A69A"/><rect x="1035" y="266" width="5" height="29" fill="#EF5350"/><rect x="1043" y="291" width="5" height="4" fill="#26A69A"/><rect x="1051" y="272" width="5" height="20" fill="#26A69A"/><rect x="1058" y="264" width="5" height="9" fill="#26A69A"/><rect x="1066" y="262" width="5" height="3" fill="#26A69A"/><rect x="1074" y="253" width="5" height="10" fill="#26A69A"/><rect x="1082" y="253" width="5" height="46" fill="#EF5350"/><rect x="1089" y="277" width="5" height="23" fill="#26A69A"/><rect x="1097" y="278" width="5" height="2" fill="#EF5350"/><rect x="1105" y="266" width="5" height="13" fill="#26A69A"/><rect x="1113" y="267" width="5" height="9" fill="#EF5350"/><rect x="1120" y="267" width="5" height="9" fill="#26A69A"/><rect x="1128" y="265" width="5" height="12" fill="#EF5350"/><rect x="1136" y="277" width="5" height="24" fill="#EF5350"/><rect x="1144" y="302" width="5" height="151" fill="#EF5350"/><rect x="1151" y="452" width="5" height="3" fill="#26A69A"/><rect x="1159" y="452" width="5" height="33" fill="#EF5350"/><rect x="1167" y="474" width="5" height="10" fill="#26A69A"/><rect x="1175" y="473" width="5" height="2" fill="#26A69A"/><rect x="1182" y="422" width="5" height="52" fill="#26A69A"/><rect x="1190" y="419" width="5" height="6" fill="#EF5350"/><rect x="1198" y="423" width="5" height="2" fill="#26A69A"/><rect x="1206" y="417" width="5" height="8" fill="#26A69A"/><rect x="1213" y="416" width="5" height="15" fill="#EF5350"/><rect x="1221" y="396" width="5" height="35" fill="#26A69A"/><rect x="1229" y="316" width="5" height="80" fill="#26A69A"/><rect x="1237" y="314" width="5" height="10" fill="#EF5350"/><rect x="1244" y="321" width="5" height="2" fill="#26A69A"/><rect x="1252" y="271" width="5" height="51" fill="#26A69A"/><rect x="1260" y="271" width="5" height="13" fill="#EF5350"/><rect x="1268" y="283" width="5" height="21" fill="#EF5350"/><rect x="1275" y="302" width="5" height="2" fill="#26A69A"/><rect x="1283" y="301" width="5" height="3" fill="#EF5350"/><rect x="1291" y="300" width="5" height="4" fill="#26A69A"/><rect x="1299" y="297" width="5" height="5" fill="#26A69A"/><rect x="1306" y="289" width="5" height="8" fill="#26A69A"/><rect x="1314" y="282" width="5" height="8" fill="#26A69A"/><rect x="1322" y="275" width="5" height="8" fill="#26A69A"/><rect x="1330" y="276" width="5" height="41" fill="#EF5350"/><rect x="1337" y="312" width="5" height="5" fill="#26A69A"/><rect x="1345" y="311" width="5" height="3" fill="#EF5350"/></g>
<polyline points="0.0,125.2 15.5,126.7 38.8,128.3 64.7,127.3 82.8,125.5 84.2,125.5 99.6,118.4 123.3,111.3 142.3,113.0 161.3,117.2 180.2,124.3 201.6,130.3 220.0,131.1 220.5,131.5 229.5,131.6 239.0,131.1 247.5,130.0 267.4,126.9 291.1,124.0 310.1,122.1 324.3,117.4 348.1,112.2 362.3,100.8 386.0,84.2 409.7,70.7 433.4,56.9 440.0,55.0 460.2,47.0 475.6,45.5 501.7,43.4 523.0,43.4 549.1,42.0 572.8,34.9 594.1,24.9 620.2,17.1 641.6,13.0 672.4,4.7 680.7,4.0 704.4,5.2 717.4,14.2 731.7,23.7 745.9,31.3 758.2,35.6 769.6,32.0 783.8,29.9 795.7,29.4 812.3,32.0 831.3,37.9 850.2,41.0 873.9,45.1 880.0,45.6 899.0,48.9 910.8,51.3 920.8,53.9 927.4,62.7 936.9,70.3 951.1,85.2 972.5,103.0 983.2,110.1 991.5,116.8 1003.3,124.3 1019.9,138.6 1030.6,144.5 1046.0,156.4 1067.3,168.2 1076.8,171.8 1086.3,177.7 1098.2,183.6 1120.0,191.9 1130.7,196.6 1138.5,200.9 1148.5,214.4 1162.7,232.2 1178.1,250.0 1193.5,263.0 1210.1,276.0 1223.6,285.1 1233.8,287.2 1246.2,289.3 1254.0,288.6 1262.3,287.9 1276.5,289.6 1295.5,290.5 1309.7,290.3 1323.9,289.6 1333.4,290.3 1347.2,292.2" fill="none" stroke="#2196F3" stroke-width="1.5" stroke-linejoin="round"/>
<rect x="0" y="676" width="1749" height="2" fill="#E0E3EB"/>
<g shape-rendering="crispEdges"><rect x="0" y="760.1" width="3" height="3.4" fill="#26A69A"/><rect x="4" y="762.0" width="6" height="1.5" fill="#B2DFDB"/><rect x="11" y="763.5" width="7" height="0.8" fill="#FF5252"/><rect x="19" y="763.5" width="7" height="0.8" fill="#FF5252"/><rect x="27" y="763.5" width="7" height="2.2" fill="#FF5252"/><rect x="35" y="763.5" width="6" height="3.7" fill="#FF5252"/><rect x="42" y="763.5" width="7" height="2.2" fill="#FFCDD2"/><rect x="50" y="763.5" width="7" height="0.9" fill="#FFCDD2"/><rect x="58" y="763.5" width="7" height="0.8" fill="#FFCDD2"/><rect x="66" y="762.8" width="6" height="0.7" fill="#26A69A"/><rect x="73" y="760.7" width="7" height="2.8" fill="#26A69A"/><rect x="81" y="750.7" width="7" height="12.8" fill="#26A69A"/><rect x="89" y="747.4" width="7" height="16.1" fill="#26A69A"/><rect x="97" y="745.9" width="6" height="17.6" fill="#26A69A"/><rect x="104" y="745.2" width="7" height="18.3" fill="#26A69A"/><rect x="112" y="747.9" width="7" height="15.6" fill="#B2DFDB"/><rect x="120" y="749.6" width="7" height="13.9" fill="#B2DFDB"/><rect x="128" y="757.5" width="6" height="6.0" fill="#B2DFDB"/><rect x="135" y="763.5" width="7" height="0.8" fill="#FF5252"/><rect x="143" y="763.5" width="7" height="6.3" fill="#FF5252"/><rect x="151" y="763.5" width="7" height="11.4" fill="#FF5252"/><rect x="159" y="763.5" width="6" height="17.4" fill="#FF5252"/><rect x="166" y="763.5" width="7" height="18.3" fill="#FF5252"/><rect x="174" y="763.5" width="7" height="21.5" fill="#FF5252"/><rect x="182" y="763.5" width="7" height="22.5" fill="#FF5252"/><rect x="190" y="763.5" width="6" height="20.3" fill="#FFCDD2"/><rect x="197" y="763.5" width="7" height="17.3" fill="#FFCDD2"/><rect x="205" y="763.5" width="7" height="11.0" fill="#FFCDD2"/><rect x="213" y="763.5" width="7" height="6.6" fill="#FFCDD2"/><rect x="221" y="763.5" width="6" height="3.0" fill="#FFCDD2"/><rect x="228" y="762.0" width="7" height="1.5" fill="#26A69A"/><rect x="236" y="759.0" width="7" height="4.5" fill="#26A69A"/><rect x="244" y="754.6" width="7" height="8.9" fill="#26A69A"/><rect x="252" y="751.4" width="6" height="12.1" fill="#26A69A"/><rect x="259" y="750.9" width="7" height="12.6" fill="#26A69A"/><rect x="267" y="750.3" width="7" height="13.2" fill="#26A69A"/><rect x="275" y="750.8" width="7" height="12.7" fill="#B2DFDB"/><rect x="283" y="752.6" width="6" height="10.9" fill="#B2DFDB"/><rect x="290" y="755.1" width="7" height="8.4" fill="#B2DFDB"/><rect x="298" y="756.8" width="7" height="6.7" fill="#B2DFDB"/><rect x="306" y="757.2" width="7" height="6.3" fill="#B2DFDB"/><rect x="314" y="754.0" width="6" height="9.5" fill="#26A69A"/><rect x="321" y="752.6" width="7" height="10.9" fill="#26A69A"/><rect x="329" y="753.5" width="7" height="10.0" fill="#B2DFDB"/><rect x="337" y="754.3" width="7" height="9.2" fill="#B2DFDB"/><rect x="345" y="753.1" width="6" height="10.4" fill="#26A69A"/><rect x="352" y="743.2" width="7" height="20.3" fill="#26A69A"/><rect x="360" y="738.1" width="7" height="25.4" fill="#26A69A"/><rect x="368" y="737.0" width="7" height="26.5" fill="#26A69A"/><rect x="376" y="737.8" width="6" height="25.7" fill="#B2DFDB"/><rect x="383" y="742.9" width="7" height="20.6" fill="#B2DFDB"/><rect x="391" y="747.1" width="7" height="16.4" fill="#B2DFDB"/><rect x="399" y="750.3" width="7" height="13.2" fill="#B2DFDB"/><rect x="407" y="752.3" width="6" height="11.2" fill="#B2DFDB"/><rect x="414" y="754.9" width="7" height="8.6" fill="#B2DFDB"/><rect x="422" y="754.0" width="7" height="9.5" fill="#26A69A"/><rect x="430" y="757.5" width="7" height="6.0" fill="#B2DFDB"/><rect x="438" y="759.5" width="6" height="4.0" fill="#B2DFDB"/><rect x="445" y="762.8" width="7" height="0.7" fill="#B2DFDB"/><rect x="453" y="763.5" width="7" height="3.1" fill="#FF5252"/><rect x="461" y="763.5" width="7" height="10.9" fill="#FF5252"/><rect x="469" y="763.5" width="6" height="17.3" fill="#FF5252"/><rect x="476" y="763.5" width="7" height="22.7" fill="#FF5252"/><rect x="484" y="763.5" width="7" height="24.5" fill="#FF5252"/><rect x="492" y="763.5" width="7" height="22.8" fill="#FFCDD2"/><rect x="500" y="763.5" width="6" height="24.0" fill="#FF5252"/><rect x="507" y="763.5" width="7" height="24.2" fill="#FF5252"/><rect x="515" y="763.5" width="7" height="21.5" fill="#FFCDD2"/><rect x="523" y="763.5" width="7" height="18.7" fill="#FFCDD2"/><rect x="531" y="763.5" width="6" height="14.7" fill="#FFCDD2"/><rect x="538" y="763.5" width="7" height="12.9" fill="#FFCDD2"/><rect x="546" y="763.5" width="7" height="7.2" fill="#FFCDD2"/><rect x="554" y="763.5" width="7" height="2.0" fill="#FFCDD2"/><rect x="562" y="761.4" width="6" height="2.1" fill="#26A69A"/><rect x="569" y="759.0" width="7" height="4.5" fill="#26A69A"/><rect x="577" y="754.0" width="7" height="9.5" fill="#26A69A"/><rect x="585" y="752.0" width="7" height="11.5" fill="#26A69A"/><rect x="593" y="752.7" width="6" height="10.8" fill="#B2DFDB"/><rect x="600" y="753.2" width="7" height="10.3" fill="#B2DFDB"/><rect x="608" y="754.1" width="7" height="9.4" fill="#B2DFDB"/><rect x="616" y="755.7" width="7" height="7.8" fill="#B2DFDB"/><rect x="624" y="760.5" width="6" height="3.0" fill="#B2DFDB"/><rect x="631" y="762.7" width="7" height="0.8" fill="#B2DFDB"/><rect x="639" y="763.5" width="7" height="1.1" fill="#FF5252"/><rect x="647" y="763.5" width="7" height="1.0" fill="#FFCDD2"/><rect x="655" y="763.5" width="6" height="0.8" fill="#FFCDD2"/><rect x="662" y="762.7" width="7" height="0.8" fill="#26A69A"/><rect x="670" y="762.7" width="7" height="0.8" fill="#B2DFDB"/><rect x="678" y="763.5" width="7" height="2.8" fill="#FF5252"/><rect x="686" y="763.5" width="6" height="8.5" fill="#FF5252"/><rect x="693" y="763.5" width="7" height="11.3" fill="#FF5252"/><rect x="701" y="763.5" width="7" height="13.8" fill="#FF5252"/><rect x="709" y="763.5" width="7" height="25.8" fill="#FF5252"/><rect x="717" y="763.5" width="6" height="35.8" fill="#FF5252"/><rect x="724" y="763.5" width="7" height="37.1" fill="#FF5252"/><rect x="732" y="763.5" width="7" height="36.0" fill="#FFCDD2"/><rect x="740" y="763.5" width="7" height="32.9" fill="#FFCDD2"/><rect x="748" y="763.5" width="6" height="29.4" fill="#FFCDD2"/><rect x="755" y="763.5" width="7" height="18.6" fill="#FFCDD2"/><rect x="763" y="763.5" width="7" height="0.8" fill="#FFCDD2"/><rect x="771" y="753.6" width="7" height="9.9" fill="#26A69A"/><rect x="779" y="748.7" width="6" height="14.8" fill="#26A69A"/><rect x="786" y="746.5" width="7" height="17.0" fill="#26A69A"/><rect x="794" y="747.2" width="7" height="16.3" fill="#B2DFDB"/><rect x="802" y="754.6" width="7" height="8.9" fill="#B2DFDB"/><rect x="810" y="758.0" width="6" height="5.5" fill="#B2DFDB"/><rect x="817" y="762.7" width="7" height="0.8" fill="#B2DFDB"/><rect x="825" y="763.5" width="7" height="2.0" fill="#FF5252"/><rect x="833" y="763.5" width="7" height="1.9" fill="#FFCDD2"/><rect x="841" y="763.5" width="6" height="1.3" fill="#FFCDD2"/><rect x="848" y="761.3" width="7" height="2.2" fill="#26A69A"/><rect x="856" y="760.6" width="7" height="2.9" fill="#26A69A"/><rect x="864" y="760.5" width="7" height="3.0" fill="#26A69A"/><rect x="872" y="762.2" width="6" height="1.3" fill="#B2DFDB"/><rect x="879" y="762.7" width="7" height="0.8" fill="#B2DFDB"/><rect x="887" y="762.3" width="7" height="1.2" fill="#26A69A"/><rect x="895" y="762.5" width="7" height="1.0" fill="#B2DFDB"/><rect x="903" y="763.5" width="6" height="0.8" fill="#FF5252"/><rect x="910" y="763.5" width="7" height="0.8" fill="#FFCDD2"/><rect x="918" y="763.5" width="7" height="2.8" fill="#FF5252"/><rect x="926" y="763.5" width="7" height="23.6" fill="#FF5252"/><rect x="934" y="763.5" width="6" height="32.1" fill="#FF5252"/><rect x="941" y="763.5" width="7" height="36.3" fill="#FF5252"/><rect x="949" y="763.5" width="7" height="35.8" fill="#FFCDD2"/><rect x="957" y="763.5" width="7" height="31.0" fill="#FFCDD2"/><rect x="965" y="763.5" width="6" height="25.9" fill="#FFCDD2"/><rect x="972" y="763.5" width="7" height="21.1" fill="#FFCDD2"/><rect x="980" y="763.5" width="7" height="16.4" fill="#FFCDD2"/><rect x="988" y="763.5" width="7" height="13.9" fill="#FFCDD2"/><rect x="996" y="763.5" width="6" height="6.8" fill="#FFCDD2"/><rect x="1003" y="763.5" width="7" height="3.2" fill="#FFCDD2"/><rect x="1011" y="763.5" width="7" height="3.6" fill="#FF5252"/><rect x="1019" y="763.5" width="7" height="2.9" fill="#FFCDD2"/><rect x="1027" y="762.9" width="6" height="0.6" fill="#26A69A"/><rect x="1034" y="762.7" width="7" height="0.8" fill="#B2DFDB"/><rect x="1042" y="761.7" width="7" height="1.8" fill="#26A69A"/><rect x="1050" y="758.0" width="7" height="5.5" fill="#26A69A"/><rect x="1058" y="754.9" width="6" height="8.6" fill="#26A69A"/><rect x="1065" y="752.3" width="7" height="11.2" fill="#26A69A"/><rect x="1073" y="749.3" width="7" height="14.2" fill="#26A69A"/><rect x="1081" y="752.7" width="7" height="10.8" fill="#B2DFDB"/><rect x="1089" y="752.4" width="6" height="11.1" fill="#26A69A"/><rect x="1096" y="752.4" width="7" height="11.1" fill="#26A69A"/><rect x="1104" y="751.3" width="7" height="12.2" fill="#26A69A"/><rect x="1112" y="751.2" width="7" height="12.3" fill="#26A69A"/><rect x="1120" y="750.4" width="6" height="13.1" fill="#26A69A"/><rect x="1127" y="751.0" width="7" height="12.5" fill="#B2DFDB"/><rect x="1135" y="754.4" width="7" height="9.1" fill="#B2DFDB"/><rect x="1143" y="763.5" width="7" height="8.3" fill="#FF5252"/><rect x="1151" y="763.5" width="6" height="21.0" fill="#FF5252"/><rect x="1158" y="763.5" width="7" height="29.3" fill="#FF5252"/><rect x="1166" y="763.5" width="7" height="31.2" fill="#FF5252"/><rect x="1174" y="763.5" width="7" height="29.3" fill="#FFCDD2"/><rect x="1182" y="763.5" width="6" height="21.0" fill="#FFCDD2"/><rect x="1189" y="763.5" width="7" height="14.2" fill="#FFCDD2"/><rect x="1197" y="763.5" width="7" height="7.8" fill="#FFCDD2"/><rect x="1205" y="763.5" width="7" height="2.5" fill="#FFCDD2"/><rect x="1213" y="762.7" width="6" height="0.8" fill="#26A69A"/><rect x="1220" y="755.5" width="7" height="8.0" fill="#26A69A"/><rect x="1228" y="742.7" width="7" height="20.8" fill="#26A69A"/><rect x="1236" y="736.0" width="7" height="27.5" fill="#26A69A"/><rect x="1244" y="731.3" width="6" height="32.2" fill="#26A69A"/><rect x="1251" y="723.6" width="7" height="39.9" fill="#26A69A"/><rect x="1259" y="722.7" width="7" height="40.8" fill="#26A69A"/><rect x="1267" y="726.4" width="7" height="37.1" fill="#B2DFDB"/><rect x="1275" y="729.4" width="6" height="34.1" fill="#B2DFDB"/><rect x="1282" y="732.9" width="7" height="30.6" fill="#B2DFDB"/><rect x="1290" y="736.3" width="7" height="27.2" fill="#B2DFDB"/><rect x="1298" y="739.4" width="7" height="24.1" fill="#B2DFDB"/><rect x="1306" y="741.8" width="6" height="21.7" fill="#B2DFDB"/><rect x="1313" y="743.1" width="7" height="20.4" fill="#B2DFDB"/><rect x="1321" y="744.1" width="7" height="19.4" fill="#B2DFDB"/><rect x="1329" y="750.5" width="7" height="13.0" fill="#B2DFDB"/><rect x="1337" y="754.8" width="6" height="8.7" fill="#B2DFDB"/><rect x="1344" y="757.9" width="7" height="5.6" fill="#B2DFDB"/></g>
<polyline points="0.0,758.6 10.3,761.5 22.3,763.2 37.7,768.3 54.9,765.8 68.6,763.5 77.2,760.6 84.0,747.8 94.3,738.3 107.2,729.2 122.6,724.9 135.5,736.6 147.5,748.6 154.4,757.2 161.2,766.6 169.8,773.5 176.7,781.2 184.4,788.6 192.1,791.5 199.8,793.2 207.5,789.3 223.0,783.8 229.8,779.0 238.4,775.2 245.3,768.3 253.9,760.6 262.4,756.3 271.0,752.0 277.9,750.0 285.6,749.5 290.0,750.0 298.6,750.0 308.0,748.6 315.7,742.6 324.3,738.3 334.6,736.3 346.6,734.0 353.5,719.5 362.0,705.7 370.6,697.2 378.3,691.7 389.5,691.7 399.8,692.3 410.1,691.1 416.9,691.7 424.6,688.1 432.4,690.3 440.9,691.7 447.8,694.6 455.5,698.9 461.5,707.4 470.1,719.5 478.7,731.5 487.3,739.7 494.1,743.1 502.7,751.2 511.3,758.0 519.8,761.5 526.7,763.2 533.6,763.0 541.3,764.6 549.0,760.6 557.6,755.5 564.4,751.2 572.2,747.8 580.0,740.9 588.6,735.7 600.6,732.8 610.9,731.1 618.6,730.6 627.2,735.2 640.0,739.2 648.6,739.5 660.6,738.0 672.6,737.8 681.2,742.1 688.9,750.3 696.6,756.3 704.4,762.7 711.7,779.4 719.5,798.3 726.3,809.5 734.9,818.9 742.6,824.5 750.3,828.7 758.0,823.2 765.8,804.3 773.5,791.4 781.2,782.9 788.9,776.5 797.0,772.9 804.9,778.6 812.1,779.8 819.8,784.6 828.4,788.0 835.2,788.5 843.8,787.7 851.5,783.7 858.4,782.5 867.0,781.7 875.5,783.4 882.4,784.6 890.1,783.2 897.0,782.9 904.7,785.1 912.4,784.1 921.0,786.3 928.7,813.7 936.4,830.0 944.2,844.6 951.9,854.0 959.6,857.8 968.2,860.1 970.0,859.7 976.9,859.7 982.9,858.9 990.6,860.4 998.3,854.4 1006.0,851.5 1014.6,852.8 1022.3,852.3 1029.2,848.9 1036.9,848.9 1044.6,847.5 1052.3,842.9 1060.9,836.9 1068.6,831.2 1076.3,824.9 1083.2,825.7 1090.9,822.3 1098.6,819.4 1107.2,814.6 1114.9,811.2 1122.7,807.2 1130.4,804.8 1138.1,805.7 1145.8,824.9 1153.5,842.0 1161.3,858.3 1169.0,868.6 1176.7,875.0 1184.4,871.7 1193.0,867.8 1200.7,863.5 1208.4,858.7 1216.1,855.2 1223.0,847.5 1230.7,829.2 1238.4,815.5 1246.2,803.4 1253.9,786.3 1261.6,774.3 1262.9,773.5 1271.5,765.8 1280.1,759.8 1293.8,753.8 1304.1,749.5 1314.4,744.8 1324.2,740.5 1331.5,743.8 1340.1,746.4 1347.8,748.3" fill="none" stroke="#2962FF" stroke-width="1.5" stroke-linejoin="round"/>
<polyline points="0.0,762.0 17.2,762.0 37.7,764.6 51.5,765.2 65.2,764.4 77.2,763.5 89.2,758.0 102.9,750.3 116.6,741.7 123.5,739.2 132.1,738.3 145.8,740.9 163.0,750.3 180.1,762.3 188.7,769.2 202.4,776.4 214.4,779.5 226.4,780.3 240.1,778.6 253.9,772.6 267.6,766.6 281.3,761.5 290.0,759.4 307.2,754.6 320.9,750.3 334.6,746.0 346.6,742.6 355.2,736.6 365.5,728.0 375.8,719.5 386.1,712.6 396.3,707.4 410.1,702.3 423.8,698.0 435.8,696.0 444.4,695.4 454.7,696.3 465.0,700.6 475.2,706.6 487.3,715.2 502.7,727.2 518.1,739.2 530.1,746.9 542.1,751.7 552.4,753.8 561.0,753.8 571.3,752.0 580.0,750.3 597.2,744.3 617.7,738.8 629.7,737.8 648.6,738.3 672.6,738.3 682.9,739.5 693.2,743.5 703.5,748.3 712.1,754.6 720.7,764.0 724.1,768.9 724.6,770.0 731.5,778.6 740.0,788.9 748.6,797.4 758.0,803.1 765.8,803.1 773.5,800.9 782.9,796.6 796.6,789.7 812.1,785.8 820.7,785.4 837.8,786.6 851.5,786.0 868.7,784.6 885.8,784.6 903.0,784.1 921.0,784.6 928.7,790.6 937.3,799.2 947.6,812.9 957.9,824.9 968.2,834.3 978.6,840.3 990.6,846.0 1000.9,847.7 1014.6,849.2 1028.3,849.6 1042.0,849.2 1052.3,848.0 1062.6,845.0 1076.3,839.1 1090.1,833.8 1103.8,828.3 1117.5,822.3 1131.2,817.2 1139.0,815.5 1146.7,817.5 1153.5,821.5 1162.1,830.0 1175.8,844.6 1187.8,852.3 1199.8,855.8 1211.9,856.6 1223.0,854.4 1232.4,848.0 1244.4,836.9 1254.7,824.9 1270.0,804.3 1273.2,800.1 1283.5,789.8 1297.2,777.8 1310.9,767.5 1323.0,760.6 1331.5,757.2 1340.1,755.0 1347.8,753.8" fill="none" stroke="#FF6D00" stroke-width="1.5" stroke-linejoin="round"/>
<rect x="0" y="0" width="1674.5" height="5" fill="#fff" fill-opacity="0.5"/>
<path d="M1491.4,67.0 H1560.2 A5,5 0 0 1 1565.2,72.0 V91.7 A5,5 0 0 1 1560.2,96.7 H1504.2 L1473.1,117.2 L1491.8000000000002,96.7 A4,4 0 0 1 1486.4,91.7 V72.0 A5,5 0 0 1 1491.4,67.0 Z" fill="#fff" fill-opacity="0.72" stroke="#8A8A8A" stroke-width="3" stroke-linejoin="round"/><circle cx="1471.5" cy="118.2" r="3.6" fill="#8A8A8A" stroke="#fff" stroke-width="1.1"/><text x="1526.2000000000003" y="86.8" text-anchor="middle" font-family='"Liberation Sans", sans-serif' font-size="16.3" font-weight="400" fill="#131722" stroke="#131722" stroke-width="0.55" textLength="47.4" lengthAdjust="spacingAndGlyphs">1821.3</text>
<path d="M1390.1000000000001,183.5 H1458.9 A5,5 0 0 1 1463.9,188.5 V208.2 A5,5 0 0 1 1458.9,213.2 H1402.9 L1371.8,233.7 L1390.5000000000002,213.2 A4,4 0 0 1 1385.1000000000001,208.2 V188.5 A5,5 0 0 1 1390.1000000000001,183.5 Z" fill="#fff" fill-opacity="0.72" stroke="#8A8A8A" stroke-width="3" stroke-linejoin="round"/><circle cx="1370.2" cy="234.7" r="3.6" fill="#8A8A8A" stroke="#fff" stroke-width="1.1"/><text x="1424.9000000000003" y="203.3" text-anchor="middle" font-family='"Liberation Sans", sans-serif' font-size="16.3" font-weight="400" fill="#131722" stroke="#131722" stroke-width="0.55" textLength="47.4" lengthAdjust="spacingAndGlyphs">1761.8</text>
<path d="M1390.1000000000001,271.5 H1458.9 A5,5 0 0 1 1463.9,276.5 V296.2 A5,5 0 0 1 1458.9,301.2 H1402.9 L1371.8,321.7 L1390.5000000000002,301.2 A4,4 0 0 1 1385.1000000000001,296.2 V276.5 A5,5 0 0 1 1390.1000000000001,271.5 Z" fill="#fff" fill-opacity="0.72" stroke="#8A8A8A" stroke-width="3" stroke-linejoin="round"/><circle cx="1370.2" cy="322.7" r="3.6" fill="#8A8A8A" stroke="#fff" stroke-width="1.1"/><text x="1424.9000000000003" y="291.3" text-anchor="middle" font-family='"Liberation Sans", sans-serif' font-size="16.3" font-weight="400" fill="#131722" stroke="#131722" stroke-width="0.55" textLength="47.4" lengthAdjust="spacingAndGlyphs">1716.9</text>
<path d="M1499.2,377.90000000000003 H1568.0 A5,5 0 0 1 1573.0,382.90000000000003 V402.6 A5,5 0 0 1 1568.0,407.6 H1512.0 L1480.8999999999999,428.1 L1499.6000000000001,407.6 A4,4 0 0 1 1494.2,402.6 V382.90000000000003 A5,5 0 0 1 1499.2,377.90000000000003 Z" fill="#fff" fill-opacity="0.72" stroke="#8A8A8A" stroke-width="3" stroke-linejoin="round"/><circle cx="1479.3" cy="429.1" r="3.6" fill="#8A8A8A" stroke="#fff" stroke-width="1.1"/><text x="1534.0000000000002" y="397.70000000000005" text-anchor="middle" font-family='"Liberation Sans", sans-serif' font-size="16.3" font-weight="400" fill="#131722" stroke="#131722" stroke-width="0.55" textLength="47.4" lengthAdjust="spacingAndGlyphs">1662.7</text>
<path d="M1592.3000000000002,453.3 H1661.1000000000001 A5,5 0 0 1 1666.1000000000001,458.3 V478.0 A5,5 0 0 1 1661.1000000000001,483.0 H1605.1000000000001 L1574.0,503.5 L1592.7000000000003,483.0 A4,4 0 0 1 1587.3000000000002,478.0 V458.3 A5,5 0 0 1 1592.3000000000002,453.3 Z" fill="#fff" fill-opacity="0.72" stroke="#8A8A8A" stroke-width="3" stroke-linejoin="round"/><circle cx="1572.4" cy="504.5" r="3.6" fill="#8A8A8A" stroke="#fff" stroke-width="1.1"/><text x="1627.1000000000004" y="473.1" text-anchor="middle" font-family='"Liberation Sans", sans-serif' font-size="16.3" font-weight="400" fill="#131722" stroke="#131722" stroke-width="0.55" textLength="47.4" lengthAdjust="spacingAndGlyphs">1624.4</text>
<g transform="translate(1347.5,656.4)"><circle r="17" fill="#fff"/><circle r="14.7" fill="#fff" stroke="#9C27B0" stroke-width="2.2"/><path d="M3.8,-8.4 L6.0,-7.0 L-0.4,-1.2 L7.5,-1.4 L-3.7,8.4 L-5.7,7.0 L0.7,1.2 L-7.3,1.2 Z" fill="#9C27B0"/></g>
<rect x="1674.5" y="0" width="74.5" height="928" fill="#fff"/>
<rect x="0" y="888" width="1749" height="40" fill="#fff"/>
<rect x="0" y="676" width="1749" height="2" fill="#E0E3EB"/>
<line x1="1674.5" y1="0" x2="1674.5" y2="928" stroke="#E0E3EB" stroke-width="1"/>
<line x1="0" y1="887.5" x2="1749" y2="887.5" stroke="#E0E3EB" stroke-width="1"/>
<text x="1686.9" y="20.0" font-family='"Liberation Sans", sans-serif' font-size="16.8" font-weight="400" fill="#131722" textLength="52.2" lengthAdjust="spacingAndGlyphs">1875.0</text>
<text x="1686.9" y="69.0" font-family='"Liberation Sans", sans-serif' font-size="16.8" font-weight="400" fill="#131722" textLength="52.2" lengthAdjust="spacingAndGlyphs">1850.0</text>
<text x="1686.9" y="118.0" font-family='"Liberation Sans", sans-serif' font-size="16.8" font-weight="400" fill="#131722" textLength="52.2" lengthAdjust="spacingAndGlyphs">1825.0</text>
<text x="1686.9" y="167.0" font-family='"Liberation Sans", sans-serif' font-size="16.8" font-weight="400" fill="#131722" textLength="52.2" lengthAdjust="spacingAndGlyphs">1800.0</text>
<text x="1686.9" y="216.0" font-family='"Liberation Sans", sans-serif' font-size="16.8" font-weight="400" fill="#131722" textLength="52.2" lengthAdjust="spacingAndGlyphs">1775.0</text>
<text x="1686.9" y="265.0" font-family='"Liberation Sans", sans-serif' font-size="16.8" font-weight="400" fill="#131722" textLength="52.2" lengthAdjust="spacingAndGlyphs">1750.0</text>
<text x="1686.9" y="412.0" font-family='"Liberation Sans", sans-serif' font-size="16.8" font-weight="400" fill="#131722" textLength="52.2" lengthAdjust="spacingAndGlyphs">1675.0</text>
<text x="1686.9" y="461.0" font-family='"Liberation Sans", sans-serif' font-size="16.8" font-weight="400" fill="#131722" textLength="52.2" lengthAdjust="spacingAndGlyphs">1650.0</text>
<text x="1686.9" y="559.0" font-family='"Liberation Sans", sans-serif' font-size="16.8" font-weight="400" fill="#131722" textLength="52.2" lengthAdjust="spacingAndGlyphs">1600.0</text>
<text x="1686.9" y="608.0" font-family='"Liberation Sans", sans-serif' font-size="16.8" font-weight="400" fill="#131722" textLength="52.2" lengthAdjust="spacingAndGlyphs">1575.0</text>
<text x="1686.9" y="657.0" font-family='"Liberation Sans", sans-serif' font-size="16.8" font-weight="400" fill="#131722" textLength="52.2" lengthAdjust="spacingAndGlyphs">1550.0</text>
<text x="1686.9" y="701.8" font-family='"Liberation Sans", sans-serif' font-size="16.8" font-weight="400" fill="#131722" textLength="34" lengthAdjust="spacingAndGlyphs">20.0</text>
<text x="1686.9" y="836.6" font-family='"Liberation Sans", sans-serif' font-size="16.8" font-weight="400" fill="#131722" textLength="43.5" lengthAdjust="spacingAndGlyphs">−20.0</text>
<path d="M1674.0,29.2 H1746 a2,2 0 0 1 2,2 V53.6 a2,2 0 0 1 -2,2 H1674.0 Z" fill="#2962FF"/><text x="1686.9" y="48.7" font-family='"Liberation Sans", sans-serif' font-size="16.8" font-weight="700" fill="#fff" textLength="52.6" lengthAdjust="spacingAndGlyphs">1860.2</text>
<path d="M1674.0,110 H1746 a2,2 0 0 1 2,2 V134.4 a2,2 0 0 1 -2,2 H1674.0 Z" fill="#2962FF"/><text x="1686.9" y="129.5" font-family='"Liberation Sans", sans-serif' font-size="16.8" font-weight="700" fill="#fff" textLength="52.6" lengthAdjust="spacingAndGlyphs">1818.6</text>
<path d="M1674.0,221 H1746 a2,2 0 0 1 2,2 V245.4 a2,2 0 0 1 -2,2 H1674.0 Z" fill="#2962FF"/><text x="1686.9" y="240.5" font-family='"Liberation Sans", sans-serif' font-size="16.8" font-weight="700" fill="#fff" textLength="52.6" lengthAdjust="spacingAndGlyphs">1762.5</text>
<path d="M1674.0,274 H1746 a2,2 0 0 1 2,2 V298.3 a2,2 0 0 1 -2,2 H1674.0 Z" fill="#2196F3"/><text x="1686.9" y="293.4" font-family='"Liberation Sans", sans-serif' font-size="16.8" font-weight="700" fill="#fff" textLength="52.6" lengthAdjust="spacingAndGlyphs">1732.5</text>
<path d="M1674.0,348.2 H1746 a2,2 0 0 1 2,2 V370.7 a2,2 0 0 1 -2,2 H1674.0 Z" fill="#2962FF"/><text x="1686.9" y="366.1" font-family='"Liberation Sans", sans-serif' font-size="16.8" font-weight="700" fill="#fff" textLength="52.6" lengthAdjust="spacingAndGlyphs">1713.6</text>
<path d="M1674.0,300.3 H1746 a2,2 0 0 1 2,2 V346.2 a2,2 0 0 1 -2,2 H1674.0 Z" fill="#EF5350"/><text x="1686.9" y="320.3" font-family='"Liberation Sans", sans-serif' font-size="16.8" font-weight="700" fill="#fff" textLength="52.6" lengthAdjust="spacingAndGlyphs">1722.2</text>
<text x="1686.4" y="340.5" font-family='"Liberation Sans", sans-serif' font-size="16.8" font-weight="700" fill="#FBDDDC" textLength="44" lengthAdjust="spacingAndGlyphs">27:24</text>
<path d="M1674.0,421.4 H1746 a2,2 0 0 1 2,2 V445.4 a2,2 0 0 1 -2,2 H1674.0 Z" fill="#2962FF"/><text x="1686.9" y="440.7" font-family='"Liberation Sans", sans-serif' font-size="16.8" font-weight="700" fill="#fff" textLength="52.6" lengthAdjust="spacingAndGlyphs">1660.1</text>
<path d="M1674.0,497 H1746 a2,2 0 0 1 2,2 V521.6 a2,2 0 0 1 -2,2 H1674.0 Z" fill="#2962FF"/><text x="1686.9" y="516.6" font-family='"Liberation Sans", sans-serif' font-size="16.8" font-weight="700" fill="#fff" textLength="52.6" lengthAdjust="spacingAndGlyphs">1621.7</text>
<path d="M1674.0,648.8 H1720 a2,2 0 0 1 2,2 V673.8 a2,2 0 0 1 -2,2 H1674.0 Z" fill="#0C9AFA"/><text x="1686.9" y="668.6" font-family='"Liberation Sans", sans-serif' font-size="16.8" font-weight="700" fill="#fff" textLength="27" lengthAdjust="spacingAndGlyphs">517</text>
<path d="M1674.0,693.2 H1717 a2,2 0 0 1 2,2 V717 a2,2 0 0 1 -2,2 H1674.0 Z" fill="#2962FF"/><text x="1686.9" y="712.4" font-family='"Liberation Sans", sans-serif' font-size="16.8" font-weight="700" fill="#fff" textLength="25" lengthAdjust="spacingAndGlyphs">4.2</text>
<path d="M1674.0,719 H1717 a2,2 0 0 1 2,2 V743.4 a2,2 0 0 1 -2,2 H1674.0 Z" fill="#FF6D00"/><text x="1686.9" y="738.5" font-family='"Liberation Sans", sans-serif' font-size="16.8" font-weight="700" fill="#fff" textLength="25" lengthAdjust="spacingAndGlyphs">2.7</text>
<path d="M1674.0,745.4 H1717 a2,2 0 0 1 2,2 V768.8 a2,2 0 0 1 -2,2 H1674.0 Z" fill="#B2DFDB"/><text x="1686.9" y="764.4" font-family='"Liberation Sans", sans-serif' font-size="16.8" font-weight="400" fill="#131722" textLength="25" lengthAdjust="spacingAndGlyphs">1.6</text>
<text x="37.5" y="915.3" text-anchor="middle" font-family='"Liberation Sans", sans-serif' font-size="16" font-weight="400" fill="#131722" textLength="18" lengthAdjust="spacingAndGlyphs">22</text>
<text x="177.5" y="915.3" text-anchor="middle" font-family='"Liberation Sans", sans-serif' font-size="16" font-weight="400" fill="#131722" textLength="18" lengthAdjust="spacingAndGlyphs">25</text>
<text x="363.5" y="915.3" text-anchor="middle" font-family='"Liberation Sans", sans-serif' font-size="16" font-weight="400" fill="#131722" textLength="18" lengthAdjust="spacingAndGlyphs">29</text>
<text x="502.5" y="915.3" text-anchor="middle" font-family='"Liberation Sans", sans-serif' font-size="16" font-weight="700" fill="#131722" textLength="30" lengthAdjust="spacingAndGlyphs">Jun</text>
<text x="688.5" y="915.3" text-anchor="middle" font-family='"Liberation Sans", sans-serif' font-size="16" font-weight="400" fill="#131722" textLength="9" lengthAdjust="spacingAndGlyphs">5</text>
<text x="828.5" y="915.3" text-anchor="middle" font-family='"Liberation Sans", sans-serif' font-size="16" font-weight="400" fill="#131722" textLength="9" lengthAdjust="spacingAndGlyphs">8</text>
<text x="1014.5" y="915.3" text-anchor="middle" font-family='"Liberation Sans", sans-serif' font-size="16" font-weight="400" fill="#131722" textLength="18" lengthAdjust="spacingAndGlyphs">12</text>
<text x="1153.5" y="915.3" text-anchor="middle" font-family='"Liberation Sans", sans-serif' font-size="16" font-weight="400" fill="#131722" textLength="18" lengthAdjust="spacingAndGlyphs">15</text>
<text x="1339.5" y="915.3" text-anchor="middle" font-family='"Liberation Sans", sans-serif' font-size="16" font-weight="400" fill="#131722" textLength="18" lengthAdjust="spacingAndGlyphs">19</text>
<text x="1479.5" y="915.3" text-anchor="middle" font-family='"Liberation Sans", sans-serif' font-size="16" font-weight="400" fill="#131722" textLength="18" lengthAdjust="spacingAndGlyphs">22</text>
<text x="1665.5" y="915.3" text-anchor="middle" font-family='"Liberation Sans", sans-serif' font-size="16" font-weight="400" fill="#131722" textLength="18" lengthAdjust="spacingAndGlyphs">26</text>
<g transform="translate(1714.8,908.3)" fill="none" stroke="#131722" stroke-width="1.6" stroke-linejoin="round"><path d="M-10.6,0 L-5.3,-9.4 L5.3,-9.4 L10.6,0 L5.3,9.4 L-5.3,9.4 Z"/><circle r="3.2"/></g>
<path d="M0,8 H221.6 V52 H208 V90 H218.8 V126 H0 Z" fill="#fff" fill-opacity="0.5"/>
<rect x="4.9" y="11.9" width="80" height="34.6" rx="4.5" fill="#fff" stroke="#F23645" stroke-width="1"/>
<text x="17.3" y="35.3" font-family='"Liberation Sans", sans-serif' font-size="18" font-weight="400" fill="#F23645" textLength="57" lengthAdjust="spacingAndGlyphs">1722.0</text>
<text x="98.5" y="35.3" font-family='"Liberation Sans", sans-serif' font-size="18" font-weight="400" fill="#131722" textLength="22" lengthAdjust="spacingAndGlyphs">0.1</text>
<rect x="135" y="11.9" width="80" height="34.6" rx="4.5" fill="#fff" stroke="#2962FF" stroke-width="1"/>
<text x="147.2" y="35.3" font-family='"Liberation Sans", sans-serif' font-size="18" font-weight="400" fill="#2962FF" textLength="55.5" lengthAdjust="spacingAndGlyphs">1722.1</text>
<text x="5.7" y="77.2" font-family='"Liberation Sans", sans-serif' font-size="18" font-weight="400" fill="#131722" textLength="26" lengthAdjust="spacingAndGlyphs">Vol</text>
<text x="39.5" y="77.2" font-family='"Liberation Sans", sans-serif' font-size="18" font-weight="400" fill="#131722" textLength="4" lengthAdjust="spacingAndGlyphs">·</text>
<text x="51.2" y="77.2" font-family='"Liberation Sans", sans-serif' font-size="18" font-weight="400" fill="#131722" textLength="33" lengthAdjust="spacingAndGlyphs">ETH</text>
<text x="91.8" y="77.2" font-family='"Liberation Sans", sans-serif' font-size="18" font-weight="400" fill="#434651" textLength="20" lengthAdjust="spacingAndGlyphs">20</text>
<text x="134.5" y="77.2" font-family='"Liberation Sans", sans-serif' font-size="18" font-weight="400" fill="#801922" textLength="29" lengthAdjust="spacingAndGlyphs">164</text>
<text x="172.8" y="77.2" font-family='"Liberation Sans", sans-serif' font-size="18" font-weight="400" fill="#2196F3" textLength="30" lengthAdjust="spacingAndGlyphs">517</text>
<text x="5.7" y="113.4" font-family='"Liberation Sans", sans-serif' font-size="18" font-weight="400" fill="#131722" textLength="35.3" lengthAdjust="spacingAndGlyphs">EMA</text>
<text x="48.6" y="113.4" font-family='"Liberation Sans", sans-serif' font-size="18" font-weight="400" fill="#434651" textLength="19.2" lengthAdjust="spacingAndGlyphs">50</text>
<text x="73.7" y="113.4" font-family='"Liberation Sans", sans-serif' font-size="18" font-weight="400" fill="#434651" textLength="44" lengthAdjust="spacingAndGlyphs">close</text>
<text x="124.2" y="113.4" font-family='"Liberation Sans", sans-serif' font-size="18" font-weight="400" fill="#434651" textLength="9.8" lengthAdjust="spacingAndGlyphs">0</text>
<text x="156.5" y="113.4" font-family='"Liberation Sans", sans-serif' font-size="18" font-weight="400" fill="#2196F3" textLength="57" lengthAdjust="spacingAndGlyphs">1732.5</text>
<rect x="6.5" y="128.5" width="42.3" height="30.8" rx="4.5" fill="#fff" fill-opacity="0.8" stroke="#D1D4DC" stroke-width="1"/>
<path d="M21.3,147.5 L27.2,141.3 L33.1,147.5" fill="none" stroke="#131722" stroke-width="1.8"/>
<rect x="0" y="688" width="384" height="32" fill="#fff" fill-opacity="0.5"/>
<text x="5.9" y="708.6" font-family='"Liberation Sans", sans-serif' font-size="18" font-weight="400" fill="#131722" textLength="48" lengthAdjust="spacingAndGlyphs">MACD</text>
<text x="61.7" y="708.6" font-family='"Liberation Sans", sans-serif' font-size="18" font-weight="400" fill="#434651" textLength="193.5" lengthAdjust="spacingAndGlyphs">12 26 close 9 EMA EMA</text>
<text x="278" y="708.6" font-family='"Liberation Sans", sans-serif' font-size="18" font-weight="400" fill="#B2DFDB" textLength="25.5" lengthAdjust="spacingAndGlyphs">1.6</text>
<text x="314" y="708.6" font-family='"Liberation Sans", sans-serif' font-size="18" font-weight="400" fill="#2962FF" textLength="26" lengthAdjust="spacingAndGlyphs">4.2</text>
<text x="350.7" y="708.6" font-family='"Liberation Sans", sans-serif' font-size="18" font-weight="400" fill="#FF6D00" textLength="27" lengthAdjust="spacingAndGlyphs">2.7</text>
<g fill="#131722"><path d="M10.1,843.8 H27.9 V865.7 H18.9 V852.3 H10.1 Z"/><circle cx="35.4" cy="847.8" r="4"/><path d="M44.6,843.8 H54.3 L45.3,865.7 H35.7 Z"/></g>
<text x="65.5" y="865.7" font-family='"Liberation Sans", sans-serif' font-size="30.5" font-weight="700" fill="#131722" textLength="180.5" lengthAdjust="spacingAndGlyphs">TradingView</text>
</svg></body></html>
